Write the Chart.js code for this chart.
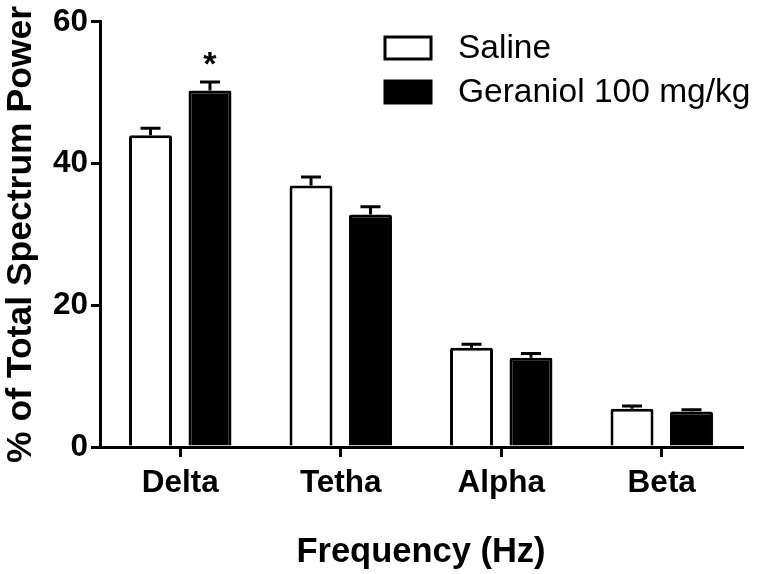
<!DOCTYPE html>
<html>
<head>
<meta charset="utf-8">
<script src="https://cdn.jsdelivr.net/npm/chart.js@4/dist/chart.umd.min.js"></script>
<style>
html,body{margin:0;padding:0;background:#fff;}
canvas{display:block;}
</style>
</head>
<body>
<canvas id="c" width="760" height="574"></canvas>
<script>
const categories = ['Delta', 'Tetha', 'Alpha', 'Beta'];
const seriesLabels = ['Saline', 'Geraniol 100 mg/kg'];
const salineMean = [44.0, 36.9, 14.0, 5.4];
const salineSem = [1.0, 1.2, 0.5, 0.4];
const geraniolMean = [50.3, 32.8, 12.6, 5.0];
const geraniolSem = [1.2, 1.1, 0.6, 0.25];
const geraniolMarks = ['*', '', '', ''];
const yTicks = [0, 20, 40, 60];

const FONT = '"Liberation Sans", Arial, sans-serif';

const errorBarPlugin = {
  id: 'errorBars',
  afterDatasetsDraw(chart) {
    const ctx = chart.ctx;
    const yScale = chart.scales.y;
    chart.data.datasets.forEach((ds, di) => {
      const meta = chart.getDatasetMeta(di);
      meta.data.forEach((bar, i) => {
        const top = yScale.getPixelForValue(ds.data[i] + ds.sem[i]);
        ctx.save();
        ctx.strokeStyle = '#000';
        ctx.lineWidth = 3;
        ctx.beginPath();
        ctx.moveTo(bar.x, bar.y);
        ctx.lineTo(bar.x, top);
        ctx.moveTo(bar.x - 10, top);
        ctx.lineTo(bar.x + 10, top);
        ctx.stroke();
        if (ds.marks && ds.marks[i]) {
          ctx.fillStyle = '#000';
          ctx.font = 'bold 34px ' + FONT;
          ctx.textAlign = 'center';
          ctx.textBaseline = 'alphabetic';
          ctx.fillText(ds.marks[i], bar.x, top - 7);
        }
        ctx.restore();
      });
    });
  }
};

const legendPlugin = {
  id: 'customLegend',
  afterDraw(chart) {
    const ctx = chart.ctx;
    const x0 = 385, y0 = 37, rowH = 44, bw = 46, bh = 22;
    chart.data.datasets.forEach((ds, di) => {
      const y = y0 + di * rowH;
      ctx.save();
      ctx.fillStyle = ds.backgroundColor;
      ctx.fillRect(x0, y, bw, bh);
      ctx.strokeStyle = ds.borderColor;
      ctx.lineWidth = 3;
      ctx.strokeRect(x0, y, bw, bh);
      ctx.fillStyle = '#000';
      ctx.font = '33.5px ' + FONT;
      ctx.textAlign = 'left';
      ctx.textBaseline = 'middle';
      ctx.fillText(ds.label, 458, y + bh / 2 + 1);
      ctx.restore();
    });
  }
};

new Chart(document.getElementById('c'), {
  type: 'bar',
  data: {
    labels: categories,
    datasets: [
      {
        label: seriesLabels[0],
        data: salineMean,
        sem: salineSem,
        backgroundColor: '#ffffff',
        borderColor: '#000000',
        borderWidth: 3,
        borderSkipped: 'bottom',
        borderRadius: 2,
        categoryPercentage: 0.741,
        barPercentage: 0.723
      },
      {
        label: seriesLabels[1],
        data: geraniolMean,
        sem: geraniolSem,
        marks: geraniolMarks,
        backgroundColor: '#000000',
        borderColor: '#000000',
        borderWidth: 3,
        borderSkipped: 'bottom',
        borderRadius: 2,
        categoryPercentage: 0.741,
        barPercentage: 0.723
      }
    ]
  },
  options: {
    responsive: false,
    animation: false,
    layout: { padding: { top: 19, right: 18, left: 0, bottom: 0 } },
    plugins: {
      legend: { display: false },
      tooltip: { enabled: false }
    },
    scales: {
      x: {
        offset: true,
        afterFit(scale) { scale.height = 127; },
        grid: {
          offset: false,
          drawOnChartArea: false,
          drawTicks: true,
          tickLength: 10,
          lineWidth: 3,
          color: '#000'
        },
        border: { display: true, width: 3, color: '#000' },
        ticks: {
          color: '#000',
          padding: 7,
          font: { family: FONT, size: 31.5, weight: 'bold' }
        },
        title: {
          display: true,
          text: 'Frequency (Hz)',
          color: '#000',
          padding: { top: 0, bottom: 1 },
          font: { family: FONT, size: 34.5, weight: 'bold' }
        }
      },
      y: {
        min: yTicks[0],
        max: yTicks[yTicks.length - 1],
        afterFit(scale) { scale.width = 100; },
        afterBuildTicks(scale) { scale.ticks = yTicks.map(v => ({ value: v })); },
        grid: {
          drawOnChartArea: false,
          drawTicks: true,
          tickLength: 9,
          lineWidth: 3,
          color: '#000'
        },
        border: { display: true, width: 3, color: '#000' },
        ticks: {
          color: '#000',
          padding: 3,
          font: { family: FONT, size: 31.5, weight: 'bold' }
        },
        title: {
          display: true,
          text: '% of Total Spectrum Power',
          color: '#000',
          padding: { top: 0, bottom: 0 },
          font: { family: FONT, size: 35.5, weight: 'bold' }
        }
      }
    }
  },
  plugins: [errorBarPlugin, legendPlugin]
});
</script>
</body>
</html>
